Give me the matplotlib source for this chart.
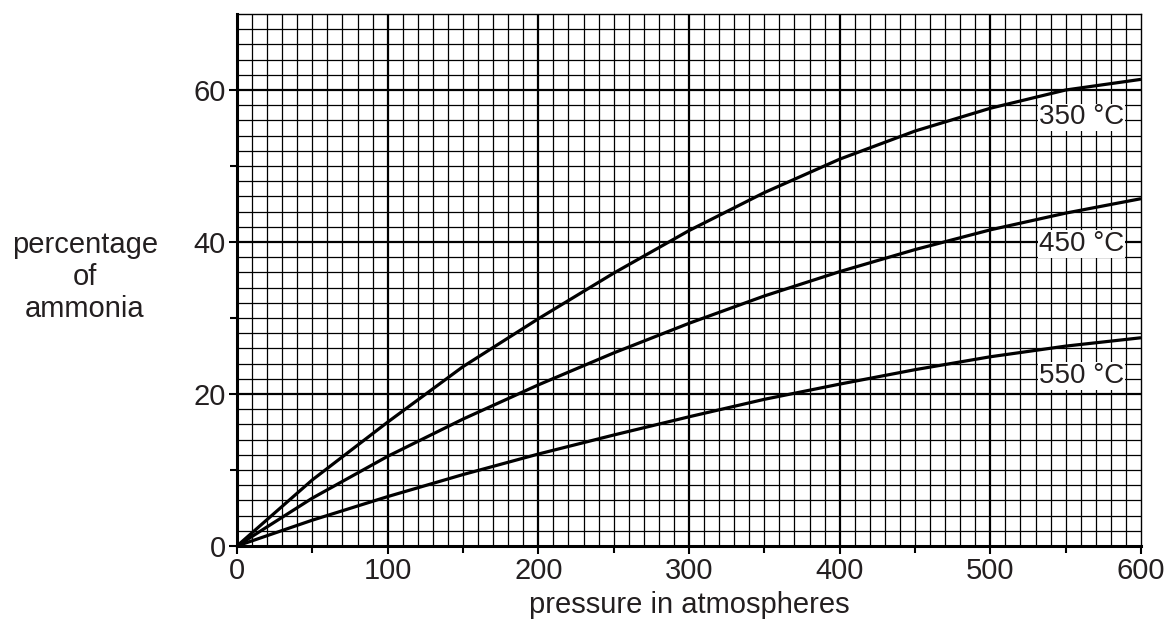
import matplotlib
matplotlib.use("Agg")
import matplotlib.pyplot as plt
import numpy as np

plt.rcParams['font.family'] = ['Liberation Sans', 'DejaVu Sans']

pressure = [0, 50, 100, 150, 200, 250, 300, 350, 400, 450, 500, 550, 600]
pct_350 = [0, 8.7, 16.3, 23.6, 29.9, 35.9, 41.5, 46.5, 50.9, 54.6, 57.6, 60.0, 61.4]
pct_450 = [0, 6.3, 11.8, 16.7, 21.2, 25.4, 29.3, 32.9, 36.1, 39.0, 41.6, 43.8, 45.7]
pct_550 = [0, 3.4, 6.5, 9.4, 12.1, 14.6, 17.0, 19.3, 21.3, 23.2, 24.9, 26.3, 27.4]
labels = ["350 °C", "450 °C", "550 °C"]
label_y = [56.4, 39.7, 22.4]
xticks = [0, 100, 200, 300, 400, 500, 600]
yticks = [0, 20, 40, 60]

txt = '#231f20'
fig = plt.figure(figsize=(11.71, 6.19), dpi=100)
ax = fig.add_axes([237/1171, 1-546/619, (1141-237)/1171, (546-14)/619])
ax.set_xlim(0, 600)
ax.set_ylim(0, 70)

for x in range(10, 600, 10):
    lw = 1.6 if x % 100 == 0 else 0.9
    ax.axvline(x, color='black', lw=lw, zorder=1)
for y in range(2, 70, 2):
    lw = 1.6 if y % 20 == 0 else 0.9
    ax.axhline(y, color='black', lw=lw, zorder=1)

for vals in (pct_350, pct_450, pct_550):
    ax.plot(pressure, vals, color='black', lw=2.3, zorder=3,
            solid_capstyle='butt', solid_joinstyle='round')

for lab, yy in zip(labels, label_y):
    ax.text(589, yy, lab, ha='right', va='center', fontsize=20, color=txt,
            bbox=dict(facecolor='white', edgecolor='none', pad=0.5), zorder=4)

ax.set_xticks(xticks)
ax.set_yticks(yticks)
ax.set_xticks([50, 150, 250, 350, 450, 550], minor=True)
ax.set_yticks([10, 30, 50], minor=True)
ax.tick_params(which='major', direction='out', length=6, width=1.5, labelsize=21,
               labelcolor=txt, pad=2)
ax.tick_params(which='minor', direction='out', length=5, width=1.5)
for s in ('left', 'bottom'):
    ax.spines[s].set_linewidth(2.2)
for s in ('top', 'right'):
    ax.spines[s].set_linewidth(1.0)

ax.set_xlabel('pressure in atmospheres', fontsize=21, color=txt, labelpad=4)
fig.text(85/1171, 1-277/619, 'percentage\nof\nammonia', ha='center', va='center',
         fontsize=21, color=txt, linespacing=1.2)

fig.savefig('out.png', dpi=100, facecolor='white')
